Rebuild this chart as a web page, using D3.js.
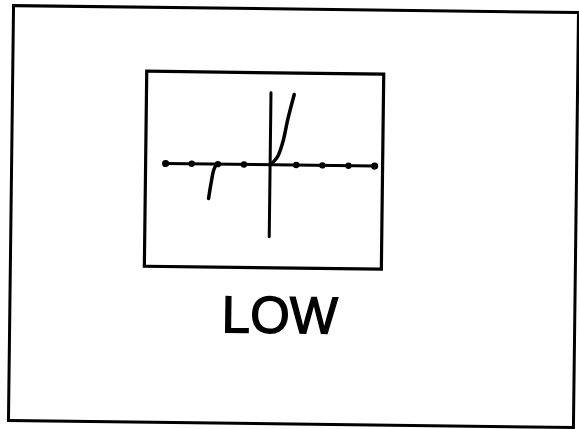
<!DOCTYPE html>
<html>
<head>
<meta charset="utf-8">
<style>
body { margin: 0; background: #fff; }
svg { display: block; }
</style>
</head>
<body>
<svg width="579" height="429"></svg>
<script src="https://d3js.org/d3.v7.min.js"></script>
<script>
// tick positions on the x axis (origin drawn separately)
var xTicks = [-4, -3, -2, -1, 1, 2, 3, 4]
// the two branches of the curve
var rightX = [0, 0.26, 0.47, 0.66, 0.89]
var rightY = [0, 1.0, 3.1, 6.4, 9.8]
var leftX = [-2.05, -2.15, -2.24, -2.34]
var leftY = [0, -0.76, -2.4, -4.8]
var label = "LOW"

var svg = d3.select("svg")
// the scan is tilted a little
var g = svg.append("g").attr("transform", "rotate(0.7,290,215)")

var ink = "#000"

// outer frame
g.append("rect").attr("x", 11).attr("y", 9).attr("width", 565).attr("height", 415)
	.attr("fill", "none").attr("stroke", ink).attr("stroke-width", 3)

// screen box
g.append("rect").attr("x", 145).attr("y", 73).attr("width", 237).attr("height", 195)
	.attr("fill", "none").attr("stroke", ink).attr("stroke-width", 3.2)

var x = d3.scaleLinear().domain([-4, 4]).range([165, 374])
var y = d3.scaleLinear().domain([-10, 10]).range([237, 93])

// axes
g.append("line").attr("x1", x(-4)).attr("x2", x(4)).attr("y1", y(0)).attr("y2", y(0))
	.attr("stroke", ink).attr("stroke-width", 3)
g.append("line").attr("x1", x(0)).attr("x2", x(0)).attr("y1", y(10)).attr("y2", y(-10))
	.attr("stroke", ink).attr("stroke-width", 3).attr("stroke-linecap", "round")

g.selectAll("circle.tick").data(xTicks).enter().append("circle")
	.attr("class", "tick")
	.attr("cx", function(d) { return x(d) })
	.attr("cy", y(0))
	.attr("r", function(d) { return Math.abs(d) == 4 ? 3.6 : 3.2 })
	.attr("fill", ink)

var line = d3.line()
	.x(function(d) { return x(d[0]) })
	.y(function(d) { return y(d[1]) })
	.curve(d3.curveCatmullRom)

var branches = [d3.zip(rightX, rightY), d3.zip(leftX, leftY)]
g.selectAll("path.branch").data(branches).enter().append("path")
	.attr("class", "branch")
	.attr("d", line)
	.attr("fill", "none").attr("stroke", ink).attr("stroke-width", 3.5)
	.attr("stroke-linecap", "round")

g.append("text").attr("x", 281).attr("y", 333)
	.attr("text-anchor", "middle")
	.attr("font-family", "Liberation Sans, Arial, sans-serif")
	.attr("font-size", 52)
	.attr("textLength", 116).attr("lengthAdjust", "spacingAndGlyphs")
	.attr("fill", ink)
	.attr("stroke", ink).attr("stroke-width", 1.4)
	.text(label)
</script>
</body>
</html>
